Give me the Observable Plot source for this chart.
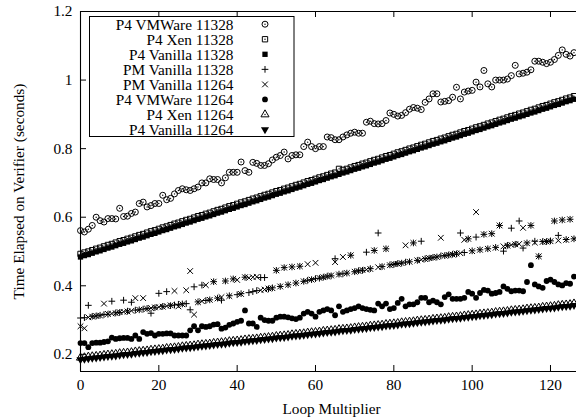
<!DOCTYPE html>
<html><head><meta charset="utf-8">
<script src="https://cdn.jsdelivr.net/npm/d3@7"></script>
<script src="https://cdn.jsdelivr.net/npm/@observablehq/plot@0.6"></script>
<style>body{margin:0;background:#fff} #c{width:576px;height:419px;overflow:hidden}</style>
</head><body><div id="c"></div>
<script>
// ---------- data (x = loop multiplier = array index 0..126) ----------
const xTicks = [0, 20, 40, 60, 80, 100, 120];
const yTicks = [0.2, 0.4, 0.6, 0.8, 1.0, 1.2];
const xDomain = [0, 126.64];
const yDomain = [0.15, 1.2];
const xLabel = "Loop Multiplier";
const yLabel = "Time Elapsed on Verifier (seconds)";
const seriesNames = ["P4 VMWare 11328","P4 Xen 11328","P4 Vanilla 11328","PM Vanilla 11328","PM Vanilla 11264","P4 VMWare 11264","P4 Xen 11264","P4 Vanilla 11264"];

const p4VMWare11328 = [0.561,0.557,0.565,0.576,0.600,0.590,0.586,0.596,0.596,0.595,
0.626,0.602,0.603,0.611,0.615,0.640,0.644,0.630,0.634,0.640,
0.640,0.664,0.651,0.655,0.668,0.678,0.683,0.680,0.678,0.683,
0.688,0.700,0.700,0.712,0.710,0.710,0.700,0.715,0.731,0.731,
0.731,0.761,0.736,0.731,0.760,0.757,0.751,0.751,0.756,0.767,
0.775,0.780,0.790,0.770,0.780,0.782,0.782,0.806,0.819,0.806,
0.800,0.806,0.806,0.834,0.832,0.826,0.826,0.834,0.840,0.845,
0.848,0.845,0.845,0.877,0.880,0.873,0.872,0.873,0.882,0.904,
0.900,0.895,0.897,0.905,0.915,0.920,0.918,0.914,0.935,0.945,
0.960,0.960,0.936,0.938,0.940,0.950,0.979,0.945,0.965,0.968,
0.970,0.994,0.980,1.028,0.989,0.980,1.000,1.000,1.000,1.003,
1.013,1.043,1.018,1.020,1.023,1.030,1.055,1.055,1.052,1.048,
1.052,1.060,1.072,1.088,1.075,1.070,1.080];

const p4Xen11328 = [0.493,0.497,0.500,0.504,0.508,0.511,0.515,0.519,0.522,0.526,
0.530,0.533,0.537,0.540,0.544,0.548,0.551,0.555,0.559,0.562,
0.566,0.570,0.573,0.577,0.581,0.584,0.588,0.592,0.595,0.599,
0.603,0.606,0.610,0.613,0.617,0.621,0.624,0.628,0.632,0.635,
0.639,0.643,0.646,0.650,0.654,0.657,0.661,0.665,0.668,0.672,
0.676,0.679,0.683,0.686,0.690,0.694,0.697,0.701,0.705,0.708,
0.712,0.716,0.719,0.723,0.727,0.730,0.741,0.738,0.741,0.745,
0.749,0.752,0.756,0.759,0.763,0.767,0.770,0.774,0.778,0.781,
0.785,0.789,0.792,0.796,0.800,0.803,0.807,0.811,0.814,0.818,
0.822,0.825,0.829,0.832,0.836,0.840,0.843,0.847,0.851,0.854,
0.858,0.862,0.865,0.869,0.873,0.876,0.880,0.884,0.887,0.891,
0.895,0.898,0.902,0.905,0.909,0.913,0.916,0.920,0.924,0.927,
0.931,0.935,0.938,0.942,0.946,0.949,0.953];

const p4Vanilla11328 = [0.484,0.488,0.491,0.495,0.499,0.502,0.506,0.510,0.513,0.517,
0.521,0.524,0.528,0.531,0.535,0.539,0.542,0.546,0.550,0.553,
0.557,0.561,0.564,0.568,0.572,0.575,0.579,0.583,0.586,0.590,
0.594,0.597,0.601,0.604,0.608,0.612,0.615,0.619,0.623,0.626,
0.630,0.634,0.637,0.641,0.645,0.648,0.652,0.656,0.659,0.663,
0.667,0.670,0.674,0.677,0.681,0.685,0.688,0.692,0.696,0.699,
0.703,0.707,0.710,0.714,0.718,0.721,0.725,0.729,0.732,0.736,
0.740,0.743,0.747,0.750,0.754,0.758,0.761,0.765,0.769,0.772,
0.776,0.780,0.783,0.787,0.791,0.794,0.798,0.802,0.805,0.809,
0.813,0.816,0.820,0.823,0.827,0.831,0.834,0.838,0.842,0.845,
0.849,0.853,0.856,0.860,0.864,0.867,0.871,0.875,0.878,0.882,
0.886,0.889,0.893,0.896,0.900,0.904,0.907,0.911,0.915,0.918,
0.922,0.926,0.929,0.933,0.937,0.940,0.944];

const pmVanilla11328 = [0.306,0.307,0.343,0.311,0.312,0.314,0.316,0.317,0.355,0.321,
0.322,0.358,0.326,0.352,0.329,0.330,0.332,0.334,0.320,0.336,
0.378,0.340,0.383,0.342,0.344,0.346,0.347,0.348,0.330,0.397,
0.353,0.402,0.357,0.359,0.412,0.364,0.358,0.414,0.371,0.420,
0.374,0.377,0.425,0.380,0.383,0.386,0.424,0.424,0.391,0.394,
0.445,0.398,0.453,0.403,0.455,0.408,0.457,0.413,0.416,0.418,
0.421,0.422,0.425,0.428,0.429,0.479,0.434,0.435,0.437,0.489,
0.441,0.444,0.445,0.498,0.450,0.503,0.554,0.456,0.508,0.461,
0.462,0.465,0.466,0.469,0.470,0.525,0.474,0.530,0.479,0.480,
0.483,0.484,0.487,0.488,0.490,0.492,0.493,0.554,0.497,0.537,
0.502,0.542,0.505,0.550,0.508,0.552,0.512,0.576,0.501,0.518,
0.568,0.521,0.589,0.510,0.525,0.576,0.530,0.486,0.529,0.529,
0.531,0.589,0.547,0.592,0.535,0.594,0.537];

const pmVanilla11264 = [0.282,0.276,0.308,0.310,0.312,0.313,0.348,0.318,0.319,0.320,
0.323,0.324,0.325,0.327,0.364,0.330,0.364,0.333,0.335,0.337,
0.338,0.339,0.341,0.343,0.385,0.340,0.346,0.387,0.443,0.316,
0.352,0.355,0.402,0.359,0.412,0.363,0.367,0.414,0.370,0.420,
0.417,0.376,0.425,0.423,0.425,0.426,0.387,0.389,0.392,0.393,
0.445,0.398,0.453,0.403,0.455,0.408,0.457,0.413,0.463,0.418,
0.467,0.423,0.425,0.427,0.430,0.469,0.433,0.484,0.437,0.489,
0.441,0.443,0.446,0.447,0.449,0.503,0.454,0.456,0.508,0.460,
0.463,0.464,0.466,0.518,0.470,0.525,0.474,0.476,0.478,0.481,
0.482,0.484,0.540,0.488,0.490,0.491,0.494,0.495,0.534,0.537,
0.501,0.615,0.505,0.550,0.508,0.552,0.511,0.576,0.515,0.517,
0.519,0.521,0.522,0.569,0.524,0.576,0.526,0.486,0.528,0.529,
0.530,0.589,0.532,0.592,0.534,0.594,0.537];

const p4VMWare11264 = [0.233,0.233,0.221,0.233,0.234,0.234,0.236,0.238,0.249,0.245,
0.247,0.248,0.248,0.245,0.255,0.245,0.265,0.260,0.262,0.255,
0.260,0.260,0.261,0.261,0.255,0.255,0.255,0.255,0.270,0.282,
0.270,0.282,0.280,0.282,0.287,0.288,0.275,0.278,0.286,0.290,
0.295,0.298,0.328,0.290,0.290,0.280,0.307,0.300,0.298,0.298,
0.307,0.310,0.310,0.308,0.305,0.303,0.307,0.319,0.324,0.319,
0.310,0.324,0.328,0.332,0.328,0.314,0.340,0.324,0.328,0.332,
0.335,0.340,0.335,0.332,0.330,0.328,0.348,0.340,0.348,0.332,
0.335,0.350,0.362,0.340,0.346,0.346,0.352,0.365,0.365,0.352,
0.357,0.352,0.346,0.367,0.375,0.362,0.362,0.362,0.365,0.382,
0.377,0.365,0.379,0.388,0.386,0.377,0.379,0.382,0.398,0.391,
0.384,0.386,0.386,0.384,0.411,0.460,0.404,0.398,0.394,0.414,
0.418,0.411,0.404,0.401,0.408,0.406,0.427];

const p4Xen11264 = [0.190,0.191,0.193,0.194,0.195,0.196,0.198,0.199,0.200,0.201,
0.203,0.204,0.205,0.206,0.208,0.209,0.210,0.211,0.213,0.214,
0.215,0.216,0.218,0.219,0.220,0.221,0.223,0.224,0.225,0.226,
0.228,0.229,0.230,0.231,0.233,0.234,0.235,0.236,0.238,0.239,
0.240,0.241,0.243,0.244,0.245,0.246,0.248,0.249,0.250,0.251,
0.253,0.254,0.255,0.256,0.258,0.259,0.260,0.261,0.263,0.264,
0.265,0.266,0.268,0.269,0.270,0.271,0.273,0.274,0.275,0.276,
0.278,0.279,0.280,0.281,0.283,0.284,0.285,0.286,0.288,0.289,
0.290,0.291,0.293,0.294,0.295,0.296,0.298,0.299,0.300,0.301,
0.303,0.304,0.305,0.306,0.308,0.309,0.310,0.311,0.313,0.314,
0.315,0.316,0.318,0.319,0.320,0.321,0.323,0.324,0.325,0.326,
0.328,0.329,0.330,0.331,0.333,0.334,0.335,0.336,0.338,0.339,
0.340,0.341,0.343,0.344,0.345,0.346,0.348];

const p4Vanilla11264 = [0.185,0.186,0.188,0.189,0.190,0.191,0.193,0.194,0.195,0.196,
0.198,0.199,0.200,0.201,0.203,0.204,0.205,0.206,0.208,0.209,
0.210,0.211,0.213,0.214,0.215,0.216,0.218,0.219,0.220,0.221,
0.223,0.224,0.225,0.226,0.228,0.229,0.230,0.231,0.233,0.234,
0.235,0.236,0.238,0.239,0.240,0.241,0.243,0.244,0.245,0.246,
0.248,0.249,0.250,0.251,0.253,0.254,0.255,0.256,0.258,0.259,
0.260,0.261,0.263,0.264,0.265,0.266,0.268,0.269,0.270,0.271,
0.273,0.274,0.275,0.276,0.278,0.279,0.280,0.281,0.283,0.284,
0.285,0.286,0.288,0.289,0.290,0.291,0.293,0.294,0.295,0.296,
0.298,0.299,0.300,0.301,0.303,0.304,0.305,0.306,0.308,0.309,
0.310,0.311,0.313,0.314,0.315,0.316,0.318,0.319,0.320,0.321,
0.323,0.324,0.325,0.326,0.328,0.329,0.330,0.331,0.333,0.334,
0.335,0.336,0.338,0.339,0.340,0.341,0.343];

// ---------- styles ----------
const FONT = "'Liberation Serif', 'Times New Roman', serif";
const FS = "15.3px";
const invTriangle = {draw(ctx, size) {
  const y = Math.sqrt(size / (3 * Math.sqrt(3)));
  ctx.moveTo(0, 2 * y); ctx.lineTo(-Math.sqrt(3) * y, -y); ctx.lineTo(Math.sqrt(3) * y, -y); ctx.closePath();
}};
const styles = [
  {sym: d3.symbolCircle,   r: 3.0, filled: false, dot: true},
  {sym: d3.symbolSquare,   r: 3.0, filled: false, dot: true},
  {sym: d3.symbolSquare,   r: 3.0, filled: true,  dot: false},
  {sym: d3.symbolPlus,     r: 2.3, filled: false, dot: false},
  {sym: d3.symbolTimes,    r: 2.7, filled: false, dot: false},
  {sym: d3.symbolCircle,   r: 2.9, filled: true,  dot: false},
  {sym: d3.symbolTriangle, r: 3.0, filled: false, dot: true},
  {sym: invTriangle,       r: 3.0, filled: true,  dot: false}
];
const seriesValues = [p4VMWare11328, p4Xen11328, p4Vanilla11328, pmVanilla11328, pmVanilla11264, p4VMWare11264, p4Xen11264, p4Vanilla11264];
const rows = vals => vals.map((v, i) => ({x: i, y: v}));

const dotMarks = [];
seriesValues.forEach((vals, k) => {
  const s = styles[k];
  const data = rows(vals);
  dotMarks.push(Plot.dot(data, {x: "x", y: "y", symbol: s.sym, r: s.r,
    fill: s.filled ? "black" : "none", stroke: s.filled ? "none" : "black", strokeWidth: 1}));
  if (s.dot) dotMarks.push(Plot.dot(data, {x: "x", y: "y", r: 0.7, fill: "black", stroke: "none"}));
});

const chart = Plot.plot({
  width: 576, height: 419,
  marginLeft: 80, marginRight: 0, marginTop: 11, marginBottom: 48,
  style: {fontFamily: FONT, fontSize: FS, color: "black", background: "white"},
  x: {domain: xDomain},
  y: {domain: yDomain},
  marks: [
    Plot.axisX(xTicks, {tickSize: 0, tickPadding: 8, tickFormat: d => String(d), label: null}),
    Plot.axisY(yTicks, {tickSize: 0, tickPadding: 8, tickFormat: d => String(d), label: null}),
    ...dotMarks,
    Plot.tickX(xTicks, {x: d => d, insetTop: 354, stroke: "black"}),
    Plot.tickX(xTicks, {x: d => d, insetBottom: 354, stroke: "black"}),
    Plot.tickY(yTicks, {y: d => d, insetRight: 490, stroke: "black"}),
    Plot.ruleX([xDomain[0]], {stroke: "black", strokeWidth: 1.1}),
    Plot.ruleY([yDomain[0], yDomain[1]], {stroke: "black", strokeWidth: 1.1}),
    Plot.text([xLabel], {frameAnchor: "bottom", textAnchor: "middle", lineAnchor: "middle", dx: 3, dy: 38, fill: "black"}),
    Plot.text([yLabel], {frameAnchor: "left", textAnchor: "middle", lineAnchor: "middle", rotate: -90, dx: -61, fill: "black"})
  ]
});
document.getElementById("c").appendChild(chart);

// ---------- legend (inside plot, top-left) ----------
const svg = d3.select(chart);
const lg = svg.append("g").attr("font-family", FONT).attr("font-size", FS);
lg.append("rect").attr("x", 89.5).attr("y", 16.5).attr("width", 204.5).attr("height", 120)
  .attr("fill", "white").attr("stroke", "black").attr("stroke-width", 1);
seriesNames.forEach((name, k) => {
  const cy = 24.2 + k * 15.05;
  const s = styles[k];
  lg.append("text").attr("x", 233.5).attr("y", cy).attr("dy", "0.35em")
    .attr("text-anchor", "end").attr("fill", "black").text(name);
  lg.append("path").attr("transform", `translate(265,${cy})`)
    .attr("d", d3.symbol(s.sym, s.r * s.r * Math.PI)())
    .attr("fill", s.filled ? "black" : "none").attr("stroke", s.filled ? "none" : "black").attr("stroke-width", 1);
  if (s.dot) lg.append("circle").attr("cx", 265).attr("cy", cy).attr("r", 0.7).attr("fill", "black");
});
</script>
</body></html>
